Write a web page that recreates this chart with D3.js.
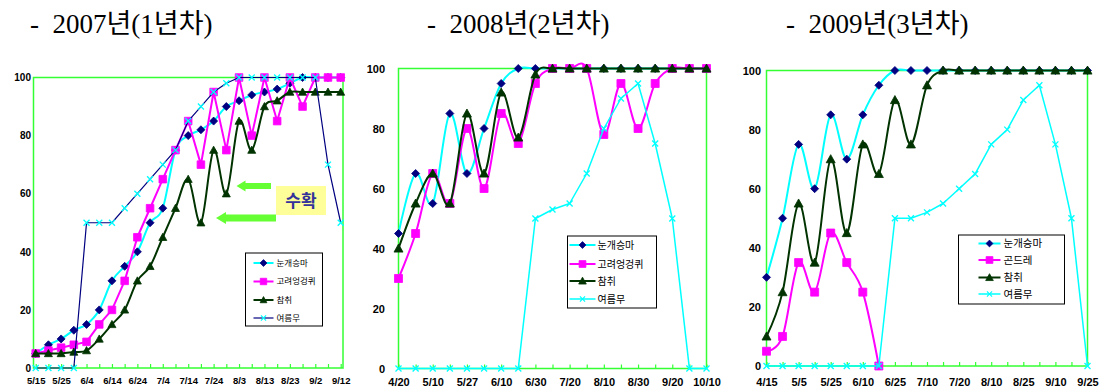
<!DOCTYPE html>
<html>
<head>
<meta charset="utf-8">
<script src="https://cdn.jsdelivr.net/npm/d3@7"></script>
<style>
  body { margin: 0; background: #fff; }
  svg { display: block; }
  .axis text { font-family: "Liberation Sans", Arial, sans-serif; font-weight: bold; fill: #000; }
  .legend text { font-family: "Noto Sans CJK KR", sans-serif; fill: #000; }
  .title { font-family: "Liberation Serif", "Noto Sans CJK KR", serif; fill: #000; }
</style>
</head>
<body>
<svg id="chart" width="1106" height="392"></svg>
<script>
// ---- Titles -------------------------------------------------------------
const titles = ["-\u00a0 2007년(1년차)", "-\u00a0 2008년(2년차)", "-\u00a0 2009년(3년차)"];

// ---- Shared tick values -------------------------------------------------
const yTicks = [0, 20, 40, 60, 80, 100];

// ---- 2007 (1st year) ----------------------------------------------------
const dates2007 = ["5/15","5/20","5/25","5/30","6/4","6/9","6/14","6/19","6/24","6/29","7/4","7/9","7/14",
                   "7/19","7/24","7/29","8/3","8/8","8/13","8/18","8/23","8/28","9/2","9/7","9/12"];
const snow2007     = [5, 8, 10, 13, 15, 20, 30, 35, 40, 50, 55, 75, 80, 82, 85, 90, 92, 94, 95, 96, 98, 100, 100, 100, 100];
const thistle2007  = [5, 6, 7, 8, 9, 15, 20, 30, 45, 55, 65, 75, 85, 70, 95, 75, 100, 80, 100, 85, 100, 90, 100, 100, 100];
const chamchwi2007 = [5, 5, 5, 5.5, 6, 10, 15, 20, 30, 35, 45, 55, 65, 50, 75, 60, 85, 75, 90, 92, 95, 95, 95, 95, 95];
const radish2007   = [0, 0, 0, 0, 50, 50, 50, 55, 60, 65, 70, 75, 85, 90, 95, 98, 100, 100, 100, 100, 100, 100, 100, 70, 50];

// ---- 2008 (2nd year) ----------------------------------------------------
const dates2008 = ["4/20","4/30","5/10","5/20","5/27","6/3","6/10","6/20","6/30","7/10","7/20",
                   "7/30","8/10","8/20","8/30","9/10","9/20","9/30","10/10"];
const snow2008     = [45, 65, 55, 85, 65, 80, 95, 100, 100, 100, 100, 100, 100, 100, 100, 100, 100, 100, 100];
const thistle2008  = [30, 45, 65, 55, 80, 60, 85, 75, 95, 100, 100, 100, 78, 95, 80, 95, 100, 100, 100];
const chamchwi2008 = [40, 55, 65, 55, 85, 65, 92, 77, 98, 100, 100, 100, 100, 100, 100, 100, 100, 100, 100];
const radish2008   = [0, 0, 0, 0, 0, 0, 0, 0, 50, 53, 55, 65, 80, 90, 95, 75, 50, 0, 0];

// ---- 2009 (3rd year) ----------------------------------------------------
const dates2009 = ["4/15","4/25","5/5","5/15","5/25","6/1","6/10","6/17","6/25","7/1","7/10",
                   "7/15","7/20","7/31","8/10","8/17","8/25","9/1","9/10","9/17","9/25"];
const snow2009     = [30, 50, 75, 60, 85, 70, 85, 95, 100, 100, 100, 100, 100, 100, 100, 100, 100, 100, 100, 100, 100];
const gondre2009   = [5, 10, 35, 25, 45, 35, 25, 0];
const chamchwi2009 = [10, 25, 55, 35, 70, 45, 75, 65, 90, 75, 95, 100, 100, 100, 100, 100, 100, 100, 100, 100, 100];
const radish2009   = [0, 0, 0, 0, 0, 0, 0, 0, 50, 50, 52, 55, 60, 65, 75, 80, 90, 95, 75, 50, 0];

// ---- Styles -------------------------------------------------------------
const COL = { cyan: "#00ffff", navy: "#000080", magenta: "#ff00ff", dkgreen: "#003300", frame: "#33ff33", arrow: "#66ff33" };

function markerPath(type, s) {
  const p = d3.path();
  if (type === "diamond") { p.moveTo(0, -s); p.lineTo(s, 0); p.lineTo(0, s); p.lineTo(-s, 0); p.closePath(); }
  else if (type === "square") { p.rect(-s, -s, 2 * s, 2 * s); }
  else if (type === "triangle") { p.moveTo(0, -s); p.lineTo(s, s * 0.8); p.lineTo(-s, s * 0.8); p.closePath(); }
  else { p.moveTo(-s, -s); p.lineTo(s, s); p.moveTo(s, -s); p.lineTo(-s, s); }
  return p.toString();
}

const panels = [
  {
    title: titles[0], titleX: 30,
    dates: dates2007,
    frame: { x0: 33.5, x1: 343, y0: 77.5, y1: 368 },
    pointRange: [35.7, 340.7],
    xLabelSize: 9.5, xLabelY: 384, yLabelSize: 10, yLabelX: 31,
    series: [
      { name: "눈개승마",   values: snow2007,     line: COL.cyan,    lw: 2,   smooth: true,  marker: "diamond",  mfill: COL.navy,    mstroke: COL.navy,    ms: 4 },
      { name: "고려엉겅퀴", values: thistle2007,  line: COL.magenta, lw: 2,   smooth: false, marker: "square",   mfill: COL.magenta, mstroke: COL.magenta, ms: 3.8 },
      { name: "참취",       values: chamchwi2007, line: COL.dkgreen, lw: 2,   smooth: true,  marker: "triangle", mfill: COL.dkgreen, mstroke: COL.dkgreen, ms: 4 },
      { name: "여름무",     values: radish2007,   line: COL.navy,    lw: 1.2, smooth: false, marker: "x",        mfill: "none",      mstroke: COL.cyan,    ms: 3 }
    ],
    legend: { x: 245.5, y: 253, w: 77, h: 73, rows: [10, 28.5, 47, 65], line: [8, 28], textX: 31, font: 8.5 }
  },
  {
    title: titles[1], titleX: 427,
    dates: dates2008,
    frame: { x0: 398.5, x1: 706.5, y0: 68.5, y1: 368.5 },
    pointRange: [398.5, 706.5],
    xLabelSize: 11, xLabelY: 386, yLabelSize: 11, yLabelX: 385,
    series: [
      { name: "눈개승마",   values: snow2008,     line: COL.cyan,    lw: 2,   smooth: true,  marker: "diamond",  mfill: COL.navy,    mstroke: COL.navy,    ms: 4 },
      { name: "고려엉겅퀴", values: thistle2008,  line: COL.magenta, lw: 2,   smooth: true,  marker: "square",   mfill: COL.magenta, mstroke: COL.magenta, ms: 4 },
      { name: "참취",       values: chamchwi2008, line: COL.dkgreen, lw: 2,   smooth: true,  marker: "triangle", mfill: COL.dkgreen, mstroke: COL.dkgreen, ms: 4.5 },
      { name: "여름무",     values: radish2008,   line: COL.cyan,    lw: 1.5, smooth: false, marker: "x",        mfill: "none",      mstroke: COL.cyan,    ms: 3 }
    ],
    legend: { x: 567.5, y: 236, w: 89, h: 72, rows: [9, 28, 45, 63], line: [2, 28], textX: 30, font: 10 }
  },
  {
    title: titles[2], titleX: 786,
    dates: dates2009,
    frame: { x0: 766.5, x1: 1087.5, y0: 70.5, y1: 366 },
    pointRange: [766.5, 1087.5],
    xLabelSize: 11, xLabelY: 386, yLabelSize: 11, yLabelX: 761,
    series: [
      { name: "눈개승마", values: snow2009,     line: COL.cyan,    lw: 2,   smooth: true,  marker: "diamond",  mfill: COL.navy,    mstroke: COL.navy,    ms: 4 },
      { name: "곤드레",   values: gondre2009,   line: COL.magenta, lw: 2,   smooth: true,  marker: "square",   mfill: COL.magenta, mstroke: COL.magenta, ms: 4 },
      { name: "참취",     values: chamchwi2009, line: COL.dkgreen, lw: 2,   smooth: true,  marker: "triangle", mfill: COL.dkgreen, mstroke: COL.dkgreen, ms: 4.5 },
      { name: "여름무",   values: radish2009,   line: COL.cyan,    lw: 1.5, smooth: false, marker: "x",        mfill: "none",      mstroke: COL.cyan,    ms: 3 }
    ],
    legend: { x: 958.5, y: 235, w: 106, h: 69, rows: [8.5, 25, 42.5, 59], line: [20, 42], textX: 45, font: 10.5 }
  }
];

const svg = d3.select("#chart");

panels.forEach(P => {
  const g = svg.append("g");
  const f = P.frame;

  // title
  g.append("text").attr("class", "title")
    .attr("x", P.titleX).attr("y", 33)
    .style("font-size", "27px")
    .text(P.title);

  const x = d3.scalePoint().domain(P.dates).range(P.pointRange);
  const y = d3.scaleLinear().domain([0, 100]).range([f.y1, f.y0]);

  // plot frame
  g.append("rect")
    .attr("x", f.x0).attr("y", f.y0)
    .attr("width", f.x1 - f.x0).attr("height", f.y1 - f.y0)
    .attr("fill", "none").attr("stroke", COL.frame).attr("stroke-width", 1.5);

  // small inward ticks on the category axis
  const tickAxis = d3.axisBottom(x).tickSizeInner(-4).tickSizeOuter(0).tickFormat("");
  const tg = g.append("g").attr("transform", `translate(0,${f.y1})`).call(tickAxis);
  tg.select(".domain").remove();
  tg.selectAll("line").attr("stroke", COL.frame).attr("stroke-width", 1.2);

  // category labels (every second date)
  const xAxis = d3.axisBottom(x)
    .tickValues(P.dates.filter((d, i) => i % 2 === 0))
    .tickSize(0).tickPadding(0);
  const xg = g.append("g").attr("class", "axis")
    .attr("transform", `translate(0,${P.xLabelY})`).call(xAxis);
  xg.select(".domain").remove();
  xg.selectAll("text").attr("dy", 0).attr("y", 0).style("font-size", P.xLabelSize + "px");

  // value labels
  const yAxis = d3.axisLeft(y).tickValues(yTicks).tickSize(0).tickPadding(0);
  const yg = g.append("g").attr("class", "axis")
    .attr("transform", `translate(${P.yLabelX},0)`).call(yAxis);
  yg.select(".domain").remove();
  yg.selectAll("text").style("font-size", P.yLabelSize + "px");

  // series
  P.series.forEach(s => {
    const pts = s.values.map((v, i) => [x(P.dates[i]), y(v)]);
    const line = d3.line().curve(s.smooth ? d3.curveCatmullRom.alpha(0) : d3.curveLinear);
    g.append("path").attr("d", line(pts))
      .attr("fill", "none").attr("stroke", s.line).attr("stroke-width", s.lw)
      .attr("stroke-linejoin", "round");
    g.selectAll(null).data(pts).enter().append("path")
      .attr("transform", d => `translate(${d[0]},${d[1]})`)
      .attr("d", markerPath(s.marker, s.ms))
      .attr("fill", s.mfill).attr("stroke", s.mstroke)
      .attr("stroke-width", s.marker === "x" ? 1.3 : 0.8);
  });

  // legend
  const L = P.legend;
  const lg = g.append("g").attr("class", "legend").attr("transform", `translate(${L.x},${L.y})`);
  lg.append("rect").attr("width", L.w).attr("height", L.h)
    .attr("fill", "#fff").attr("stroke", "#000").attr("stroke-width", 1);
  P.series.forEach((s, i) => {
    const row = lg.append("g").attr("transform", `translate(0,${L.rows[i]})`);
    row.append("line").attr("x1", L.line[0]).attr("x2", L.line[1])
      .attr("stroke", s.line).attr("stroke-width", s.lw);
    row.append("path")
      .attr("transform", `translate(${(L.line[0] + L.line[1]) / 2},0)`)
      .attr("d", markerPath(s.marker, s.ms * 0.85))
      .attr("fill", s.mfill).attr("stroke", s.mstroke)
      .attr("stroke-width", s.marker === "x" ? 1.2 : 0.8);
    row.append("text").attr("x", L.textX).attr("dy", "0.35em")
      .style("font-size", L.font + "px").text(s.name);
  });
});

// ---- Harvest annotation on the 2007 panel --------------------------------
const harvestArrows = [
  { tipX: 236.5, tailX: 271, cy: 186, body: 6, head: 11, headLen: 9 },
  { tipX: 216, tailX: 276, cy: 218, body: 7, head: 12, headLen: 10 }
];
const ann = svg.append("g");
harvestArrows.forEach(a => {
  const p = d3.path();
  p.moveTo(a.tipX, a.cy);
  p.lineTo(a.tipX + a.headLen, a.cy - a.head / 2);
  p.lineTo(a.tipX + a.headLen, a.cy - a.body / 2);
  p.lineTo(a.tailX, a.cy - a.body / 2);
  p.lineTo(a.tailX, a.cy + a.body / 2);
  p.lineTo(a.tipX + a.headLen, a.cy + a.body / 2);
  p.lineTo(a.tipX + a.headLen, a.cy + a.head / 2);
  p.closePath();
  ann.append("path").attr("d", p.toString()).attr("fill", COL.arrow);
});
ann.append("rect").attr("x", 276).attr("y", 186).attr("width", 50).attr("height", 29).attr("fill", "#ffff99");
ann.append("text").attr("x", 301).attr("y", 207).attr("text-anchor", "middle")
  .style("font-family", "'Noto Sans CJK KR', sans-serif").style("font-weight", "bold")
  .style("font-size", "17px").attr("fill", "#333399").text("수확");
</script>
</body>
</html>
